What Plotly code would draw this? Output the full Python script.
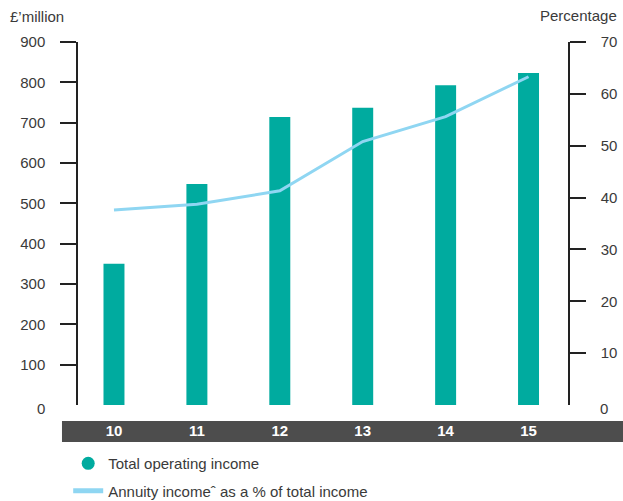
import plotly.graph_objects as go

# Financial years shown along the bottom band
years = ["10", "11", "12", "13", "14", "15"]
# Total operating income, £ million (left axis)
operating_income = [350, 548, 714, 737, 793, 823]
# Annuity income as a share of total income, % (right axis)
annuity_share = [37.6, 38.7, 41.3, 50.8, 55.6, 63.3]

left_ticks = [100, 200, 300, 400, 500, 600, 700, 800, 900]
right_ticks = [10, 20, 30, 40, 50, 60, 70]

TEAL = "#00ab9f"
SKY = "#8fd6f2"
INK = "#3a3a3a"
BAND = "#4d4d4d"
FONT = "Liberation Sans"
FS = 15

fig = go.Figure()

fig.add_trace(go.Bar(
    x=years, y=operating_income, width=0.253,
    marker=dict(color=TEAL, line=dict(width=0)),
    showlegend=False, yaxis="y",
))
fig.add_trace(go.Scatter(
    x=years, y=annuity_share, mode="lines",
    line=dict(color=SKY, width=3),
    showlegend=False, yaxis="y2",
))

# Legend entries
fig.add_trace(go.Scatter(
    x=[None], y=[None], mode="markers",
    marker=dict(color=TEAL, size=13, symbol="circle"),
    name="Total operating income", legendgroup="a",
))
fig.add_trace(go.Scatter(
    x=[None], y=[None], mode="lines",
    line=dict(color=SKY, width=5),
    name="Annuity incomeˆ as a % of total income", legendgroup="b",
    yaxis="y2",
))

axis_common = dict(
    showgrid=False, zeroline=False, showline=True,
    linecolor="#222222", linewidth=1.5,
    ticks="outside", ticklen=16, tickwidth=1.5, tickcolor="#222222",
    tickfont=dict(family=FONT, size=FS, color=INK),
    ticklabelstandoff=12,
)

fig.update_layout(
    width=623, height=501,
    margin=dict(l=78, r=55, t=42, b=96, autoexpand=False),
    paper_bgcolor="white", plot_bgcolor="white",
    font=dict(family=FONT, color=INK, size=FS),
    xaxis=dict(
        type="category", range=[-0.434, 5.476],
        showgrid=False, zeroline=False, showline=False, ticks="",
        tickfont=dict(family=FONT, size=FS, color="white", weight="bold"),
        ticklabelstandoff=15,
    ),
    yaxis=dict(range=[0, 900], tickmode="array", tickvals=left_ticks, **axis_common),
    yaxis2=dict(range=[0, 70], tickmode="array", tickvals=right_ticks,
                overlaying="y", side="right", **axis_common),
    legend=dict(
        x=-0.02, y=-0.116, xanchor="left", yanchor="top",
        font=dict(family=FONT, size=FS, color=INK),
        tracegroupgap=5, bgcolor="rgba(0,0,0,0)",
    ),
    shapes=[dict(
        type="rect", xref="paper", yref="paper", layer="below",
        x0=-0.0327, x1=1.2, y0=-0.1019, y1=-0.0441,
        fillcolor=BAND, line=dict(width=0),
    )],
    annotations=[
        dict(text="£’million", xref="paper", yref="paper", x=-0.143, y=1.069,
             xanchor="left", yanchor="middle", showarrow=False,
             font=dict(family=FONT, size=FS, color=INK)),
        dict(text="Percentage", xref="paper", yref="paper", x=1.104, y=1.074,
             xanchor="right", yanchor="middle", showarrow=False,
             font=dict(family=FONT, size=FS, color=INK)),
        dict(text="0", xref="paper", yref="y", x=-0.063, y=0, yshift=-3,
             xanchor="right", yanchor="middle", showarrow=False,
             font=dict(family=FONT, size=FS, color=INK)),
        dict(text="0", xref="paper", yref="y2", x=1.061, y=0, yshift=-3,
             xanchor="left", yanchor="middle", showarrow=False,
             font=dict(family=FONT, size=FS, color=INK)),
    ],
)

fig.write_html("out.html")
